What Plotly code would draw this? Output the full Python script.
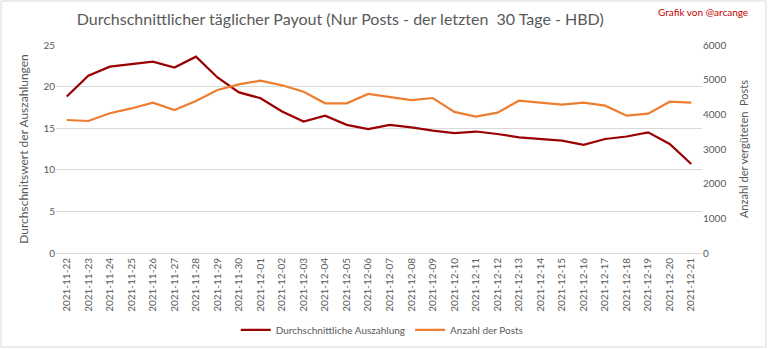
import plotly.graph_objects as go

dates = ["2021-11-22","2021-11-23","2021-11-24","2021-11-25","2021-11-26","2021-11-27","2021-11-28",
         "2021-11-29","2021-11-30","2021-12-01","2021-12-02","2021-12-03","2021-12-04","2021-12-05",
         "2021-12-06","2021-12-07","2021-12-08","2021-12-09","2021-12-10","2021-12-11","2021-12-12",
         "2021-12-13","2021-12-14","2021-12-15","2021-12-16","2021-12-17","2021-12-18","2021-12-19",
         "2021-12-20","2021-12-21"]
avg_payout = [18.8, 21.3, 22.4, 22.7, 23.0, 22.3, 23.6, 21.1, 19.3, 18.6, 17.0, 15.8, 16.5, 15.4,
              14.9, 15.4, 15.1, 14.7, 14.4, 14.6, 14.3, 13.9, 13.7, 13.5, 13.0, 13.7, 14.0, 14.5,
              13.1, 10.7]
num_posts = [3836, 3808, 4030, 4170, 4336, 4125, 4385, 4702, 4865, 4970, 4837, 4653, 4318, 4318,
             4587, 4495, 4413, 4471, 4070, 3933, 4048, 4394, 4336, 4279, 4336, 4250, 3961, 4019,
             4365, 4336]

FONT = "Lato"
GRAY = "#595959"

fig = go.Figure()
fig.add_trace(go.Scatter(x=dates, y=avg_payout, name="Durchschnittliche Auszahlung", mode="lines",
                         line=dict(color="#9b0000", width=2.2), yaxis="y"))
fig.add_trace(go.Scatter(x=dates, y=num_posts, name="Anzahl der Posts", mode="lines",
                         line=dict(color="#ed7d31", width=2.2), yaxis="y2"))

fig.update_layout(
    width=768, height=349,
    margin=dict(l=56, r=66, t=45, b=96, autoexpand=False),
    paper_bgcolor="white", plot_bgcolor="white",
    font=dict(family=FONT, color=GRAY, size=10),
    title=dict(text="Durchschnittlicher täglicher Payout (Nur Posts - der letzten  30 Tage - HBD)",
               x=0.443, xanchor="center", y=0.943, yanchor="middle",
               font=dict(size=16, color=GRAY, family=FONT)),
    showlegend=True,
    legend=dict(orientation="h", x=0.505, xanchor="center", y=-0.37, yanchor="middle",
                font=dict(size=10, color=GRAY), itemwidth=30, traceorder="normal"),
    xaxis=dict(type="category", tickangle=-90, showgrid=False, showline=True, linecolor="#d9d9d9",
               ticks="", tickfont=dict(size=10, color=GRAY), range=[-0.5, 29.5], automargin=False),
    yaxis=dict(range=[0, 25], dtick=5, showgrid=True, gridcolor="#d9d9d9", zeroline=False,
               ticks="", tickfont=dict(size=10, color=GRAY), automargin=False,
               title=dict(text="Durchschnitswert der Auszahlungen", font=dict(size=12, color=GRAY), standoff=12)),
    yaxis2=dict(range=[0, 6000], dtick=1000, overlaying="y", side="right", showgrid=False,
                zeroline=False, ticks="", tickfont=dict(size=10, color=GRAY), automargin=False,
                title=dict(text="Anzahl der vergüteten  Posts", font=dict(size=11, color=GRAY), standoff=14)),
    annotations=[dict(text="Grafik von @arcange", xref="paper", yref="paper",
                      x=1.075, y=1.16, xanchor="right", yanchor="middle", showarrow=False,
                      font=dict(size=10, color="#c00000", family=FONT))],
    shapes=[dict(type="rect", xref="paper", yref="paper", x0=-0.085, x1=1.099, y0=-0.452, y1=1.2115,
                 line=dict(color="#d9d9d9", width=1))],
)

fig.write_html("out.html")
